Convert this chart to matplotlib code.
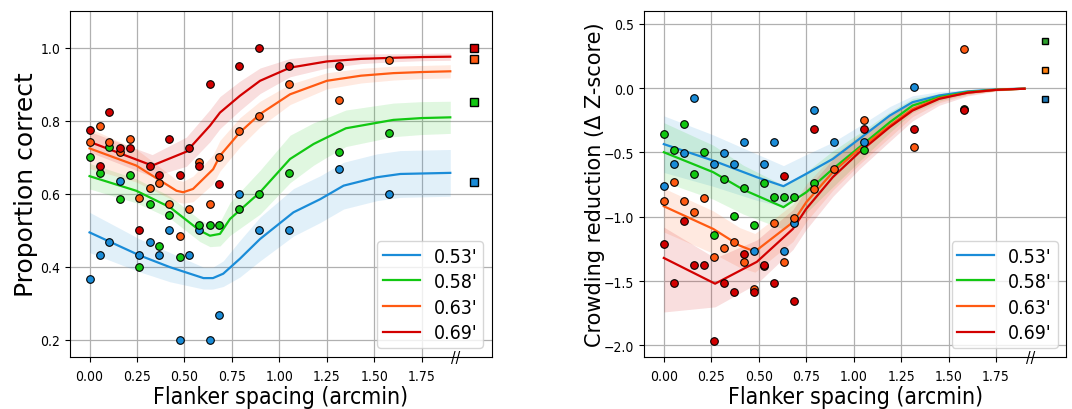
import numpy as np
import matplotlib
matplotlib.use("Agg")
import matplotlib.pyplot as plt

plt.rcParams["font.family"] = ["DejaVu Sans"]
plt.rcParams["font.stretch"] = "condensed"

# ---------------- data ----------------
labels = ["0.53'", "0.58'", "0.63'", "0.69'"]
colors = ["#1a8cd8", "#12c812", "#ff5a12", "#d20000"]
ref_colors_right = ["#1f77b4", "#2ca02c", "#ff7f0e"]

spacing = [0.0, 0.053, 0.105, 0.158, 0.211, 0.263, 0.316, 0.368, 0.421, 0.474,
           0.526, 0.579, 0.632, 0.684, 0.789, 0.895, 1.053, 1.316, 1.579]
nan = np.nan

# Left panel: proportion correct (points)
pc_blue = [0.366, 0.433, 0.467, 0.634, nan, 0.433, 0.467, 0.433, 0.5, 0.2,
           0.433, 0.5, 0.2, 0.267, 0.6, 0.5, 0.5, 0.667, 0.6]
pc_green = [0.70, 0.658, 0.729, 0.586, 0.65, 0.40, 0.572, 0.456, 0.543, 0.428,
            nan, 0.515, 0.515, 0.515, 0.558, 0.6, 0.658, 0.715, 0.767]
pc_orange = [0.742, 0.786, 0.742, 0.714, 0.75, 0.587, 0.615, 0.629, 0.572, 0.485,
             0.558, 0.686, 0.572, 0.70, 0.771, 0.814, 0.9, 0.857, 0.966]
pc_red = [0.775, 0.675, 0.824, 0.725, 0.725, 0.5, 0.675, 0.65, 0.75, 0.65,
          0.725, 0.675, 0.9, 0.626, 0.949, 1.0, 0.949, 0.949, nan]

# Left panel: fitted curves and band half-widths
fx_blue = [0, 0.264, 0.423, 0.6, 0.65, 0.704, 0.792, 0.898, 1.074, 1.215, 1.338, 1.514, 1.637, 1.9]
fy_blue = [0.494, 0.431, 0.399, 0.369, 0.369, 0.381, 0.422, 0.476, 0.549, 0.585, 0.622, 0.645, 0.654, 0.657]
fw_blue = [0.055, 0.045, 0.04, 0.03, 0.03, 0.035, 0.05, 0.06, 0.065, 0.064, 0.064, 0.064, 0.064, 0.064]

fx_green = [0, 0.246, 0.423, 0.581, 0.634, 0.687, 0.74, 0.898, 1.056, 1.18, 1.25, 1.35, 1.6, 1.75, 1.9]
fy_green = [0.648, 0.608, 0.563, 0.499, 0.485, 0.49, 0.531, 0.604, 0.695, 0.736, 0.754, 0.779, 0.802, 0.807, 0.809]
fw_green = [0.035, 0.033, 0.03, 0.03, 0.03, 0.033, 0.045, 0.06, 0.065, 0.058, 0.054, 0.05, 0.046, 0.045, 0.044]

fx_orange = [0, 0.246, 0.458, 0.493, 0.545, 0.651, 0.687, 0.792, 0.898, 1.056, 1.25, 1.43, 1.6, 1.75, 1.9]
fy_orange = [0.724, 0.677, 0.608, 0.604, 0.613, 0.667, 0.704, 0.768, 0.818, 0.872, 0.909, 0.923, 0.930, 0.933, 0.935]
fw_orange = [0.055, 0.045, 0.03, 0.03, 0.035, 0.04, 0.042, 0.04, 0.035, 0.028, 0.022, 0.02, 0.019, 0.018, 0.018]

fx_red = [0, 0.33, 0.51, 0.634, 0.687, 0.792, 0.898, 1.056, 1.25, 1.43, 1.6, 1.75, 1.9]
fy_red = [0.742, 0.677, 0.715, 0.786, 0.822, 0.868, 0.909, 0.945, 0.962, 0.969, 0.972, 0.974, 0.975]
fw_red = [0.028, 0.03, 0.04, 0.044, 0.044, 0.04, 0.035, 0.025, 0.018, 0.013, 0.011, 0.01, 0.01]

# Left panel: reference squares
sq_left_y = [0.633, 0.851, 0.97, 1.0]

# Right panel: crowding reduction (points)
cr_blue = [-0.759, -0.586, -0.503, -0.08, nan, -0.586, -0.503, -0.586, -0.42, -1.265,
           -0.586, -0.42, -1.265, -1.047, -0.166, -0.42, -0.42, 0.01, nan]
cr_green = [-0.36, -0.48, -0.275, -0.666, -0.5, -1.14, -0.705, -0.993, -0.778, -1.063,
            -0.739, -0.845, -0.845, -0.845, -0.736, nan, -0.48, nan, -0.161]
cr_orange = [-0.874, -0.733, -0.874, -0.962, -0.85, -1.314, -1.239, -1.197, -1.35, -1.56,
             -1.384, -1.047, -1.348, -1.008, -0.78, -0.632, -0.246, -0.461, 0.303]
cr_red = [-1.213, -1.516, -1.034, -1.371, -1.371, -1.967, -1.516, -1.584, -1.293, -1.584,
          -1.374, -1.516, -0.684, -1.651, -0.321, nan, -0.321, -0.321, -0.17]

# Right panel: fitted curves, lower / upper band offsets
gx_blue = [0, 0.26, 0.49, 0.63, 0.75, 0.89, 1.03, 1.19, 1.31, 1.45, 1.6, 1.75, 1.9]
gy_blue = [-0.435, -0.563, -0.692, -0.762, -0.666, -0.55, -0.394, -0.213, -0.109, -0.057, -0.025, -0.01, -0.003]
gl_blue = [0.22, 0.2, 0.18, 0.16, 0.15, 0.13, 0.1, 0.07, 0.05, 0.03, 0.015, 0.006, 0.002]
gu_blue = [0.22, 0.2, 0.18, 0.16, 0.15, 0.13, 0.1, 0.07, 0.05, 0.03, 0.015, 0.006, 0.002]

gx_green = [0, 0.26, 0.42, 0.63, 0.75, 0.89, 1.03, 1.19, 1.31, 1.45, 1.6, 1.75, 1.9]
gy_green = [-0.498, -0.653, -0.79, -0.925, -0.809, -0.628, -0.459, -0.265, -0.135, -0.07, -0.03, -0.012, -0.004]
gl_green = [0.23, 0.21, 0.19, 0.17, 0.16, 0.14, 0.11, 0.08, 0.055, 0.03, 0.015, 0.006, 0.002]
gu_green = [0.23, 0.21, 0.19, 0.17, 0.16, 0.14, 0.11, 0.08, 0.055, 0.03, 0.015, 0.006, 0.002]

gx_orange = [0, 0.26, 0.40, 0.48, 0.68, 0.75, 0.89, 1.03, 1.19, 1.31, 1.45, 1.6, 1.75, 1.9]
gy_orange = [-0.918, -1.094, -1.224, -1.27, -1.042, -0.887, -0.653, -0.472, -0.291, -0.161, -0.078, -0.035, -0.013, -0.004]
gl_orange = [0.2, 0.19, 0.17, 0.16, 0.15, 0.15, 0.14, 0.12, 0.09, 0.06, 0.035, 0.018, 0.007, 0.002]
gu_orange = [0.14, 0.14, 0.14, 0.14, 0.14, 0.14, 0.13, 0.11, 0.08, 0.05, 0.03, 0.015, 0.006, 0.002]

gx_red = [0, 0.27, 0.49, 0.68, 0.75, 0.89, 1.03, 1.19, 1.31, 1.45, 1.6, 1.75, 1.9]
gy_red = [-1.32, -1.52, -1.35, -1.094, -0.938, -0.692, -0.498, -0.303, -0.174, -0.083, -0.035, -0.013, -0.004]
gl_red = [0.42, 0.18, 0.17, 0.16, 0.16, 0.15, 0.13, 0.11, 0.08, 0.05, 0.025, 0.01, 0.003]
gu_red = [0.24, 0.2, 0.17, 0.15, 0.15, 0.14, 0.12, 0.09, 0.06, 0.04, 0.02, 0.008, 0.002]

# Right panel: reference squares (blue, green, orange)
sq_right_y = [-0.083, 0.365, 0.145]

xticks = [0.0, 0.25, 0.5, 0.75, 1.0, 1.25, 1.5, 1.75]

# ---------------- plot ----------------
fig = plt.figure(figsize=(10.72, 4.10), dpi=100)
axL = fig.add_axes([0.0653, 0.1268, 0.3937, 0.8439])
axR = fig.add_axes([0.601, 0.1268, 0.3937, 0.8439])

TICK_FS = 10
XLABEL_FS = 16.5
LEG_FS = 14

left_pts = [pc_blue, pc_green, pc_orange, pc_red]
left_fits = [(fx_blue, fy_blue, fw_blue), (fx_green, fy_green, fw_green),
             (fx_orange, fy_orange, fw_orange), (fx_red, fy_red, fw_red)]
for c, lab, (fx, fy, fw) in zip(colors, labels, left_fits):
    fx = np.array(fx); fy = np.array(fy); fw = np.array(fw)
    axL.fill_between(fx, fy - fw, fy + fw, color=c, alpha=0.13, lw=0, zorder=1)
    axL.plot(fx, fy, color=c, lw=1.6, label=lab, zorder=2)
for c, pts in zip(colors, left_pts):
    axL.scatter(spacing, pts, s=30, color=c, edgecolor="black", linewidth=0.8, zorder=3)
for c, y in zip(colors, sq_left_y):
    axL.plot([2.025], [y], marker="s", ms=6, color=c, mec="black", mew=1.0,
             clip_on=False, zorder=4, ls="none")

right_pts = [cr_blue, cr_green, cr_orange, cr_red]
right_fits = [(gx_blue, gy_blue, gl_blue, gu_blue), (gx_green, gy_green, gl_green, gu_green),
              (gx_orange, gy_orange, gl_orange, gu_orange), (gx_red, gy_red, gl_red, gu_red)]
for c, lab, (gx, gy, gl, gu) in zip(colors, labels, right_fits):
    gx = np.array(gx); gy = np.array(gy)
    axR.fill_between(gx, gy - np.array(gl), gy + np.array(gu), color=c, alpha=0.13, lw=0, zorder=1)
    axR.plot(gx, gy, color=c, lw=1.6, label=lab, zorder=2)
for c, pts in zip(colors, right_pts):
    axR.scatter(spacing, pts, s=30, color=c, edgecolor="black", linewidth=0.8, zorder=3)
for c, y in zip(ref_colors_right, sq_right_y):
    axR.plot([2.01], [y], marker="s", ms=4.2, color=c, mec="black", mew=1.0,
             clip_on=False, zorder=4, ls="none")

for ax in (axL, axR):
    ax.set_xlim(-0.103, 2.12)
    ax.set_xticks(xticks)
    ax.set_xticklabels(["%.2f" % t for t in xticks])
    ax.grid(True, color="#b0b0b0", lw=0.9)
    ax.set_axisbelow(True)
    ax.tick_params(labelsize=TICK_FS)
    ax.tick_params(axis="x", pad=5)
    ax.set_xlabel("Flanker spacing (arcmin)", fontsize=XLABEL_FS)
    ax.xaxis.set_label_coords(0.5, -0.082)
    ax.legend(loc="lower right", prop=dict(size=LEG_FS, stretch="condensed"),
              labelspacing=0.34, borderpad=0.3, handlelength=1.9, handletextpad=0.7,
              borderaxespad=0.45)
    ax.text(1.93, 0.0, "//", transform=ax.get_xaxis_transform(), ha="center", va="center",
            fontsize=11, clip_on=False, zorder=5)

axL.set_ylim(0.153, 1.1)
axL.set_yticks([0.2, 0.4, 0.6, 0.8, 1.0])
axL.set_ylabel("Proportion correct", fontsize=18, fontstretch="normal")
axL.yaxis.set_label_coords(-0.077, 0.5)

axR.set_ylim(-2.09, 0.6)
axR.set_yticks([-2.0, -1.5, -1.0, -0.5, 0.0, 0.5])
axR.set_ylabel("Crowding reduction (Δ Z-score)", fontsize=15, fontstretch="normal")
axR.yaxis.set_label_coords(-0.092, 0.5)

fig.savefig("out.png", dpi=100)
